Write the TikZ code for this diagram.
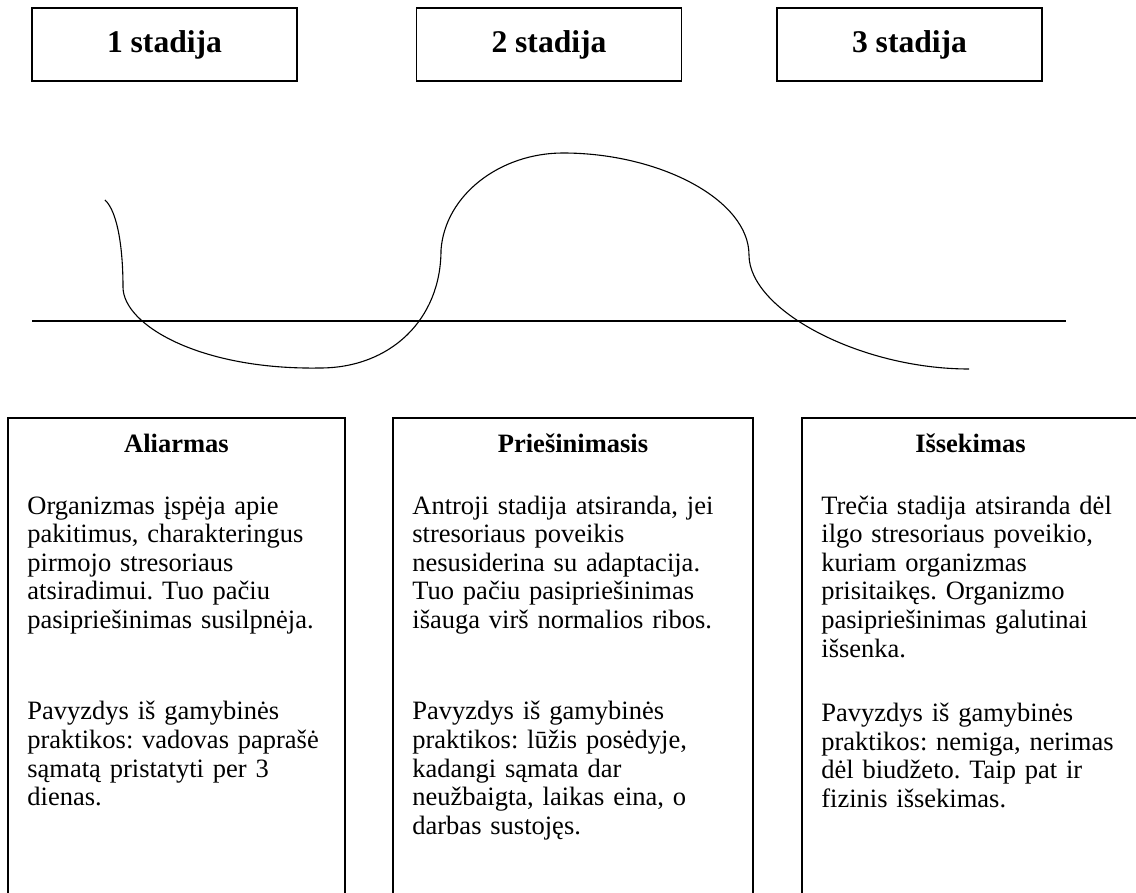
\documentclass[tikz,border=0pt]{standalone}
\usepackage{fontspec}
\setmainfont{Liberation Serif}
\usepackage{tikz}
\frenchspacing

\begin{document}
\begin{tikzpicture}[x=1pt, y=-1pt,
	stadija/.style={draw, line width=1.6pt, minimum width=265pt, minimum height=73pt, inner sep=0pt, font=\bfseries\fontsize{31.6}{36}\selectfont},
	langas/.style={draw, line width=1.6pt, anchor=north, minimum height=520pt, inner sep=0pt},
	antraste/.style={anchor=base, inner sep=0pt, font=\bfseries\fontsize{26.5}{28.6}\selectfont},
	tekstas/.style={anchor=base west, inner sep=0pt, text width=320pt, align=left, font=\fontsize{26.5}{28.6}\selectfont}]
		\useasboundingbox (0,0) rectangle (1136,893);
		\clip (0,0) rectangle (1136,893);

		% stadijos
		\node[stadija] (S1) at (164.5,44.5) {1 stadija};
		\node[stadija] (S2) at (549,44.5) {2 stadija};
		\node[stadija] (S3) at (909.5,44.5) {3 stadija};

		% norma
		\coordinate (L) at (32,321);
		\coordinate (R) at (1066,321);
		\draw[line width=1.6pt] (L) -- (R);

		% pasipriesinimo kreive
		\coordinate (A) at (105,200);
		\coordinate (B) at (123,287);
		\coordinate (C) at (320,368);
		\coordinate (D) at (441,250);
		\coordinate (T) at (563,153);
		\coordinate (E) at (749,255);
		\coordinate (F) at (969,369);
		\draw[line width=1.1pt] (A) .. controls (118,212) and (123,250) .. (B)
		.. controls (123,325) and (200,370) .. (C)
		.. controls (390,368) and (441,320) .. (D)
		.. controls (445,195) and (500,153) .. (T)
		.. controls (660,153) and (749,200) .. (E)
		.. controls (749,310) and (860,369) .. (F);

		% aprasymai
		\node[langas, minimum width=337pt] (P1) at (176.5,417) {};
		\node[langas, minimum width=360pt] (P2) at (573,417) {};
		\node[langas, minimum width=337pt] (P3) at (970.5,417) {};

		\node[antraste] (H1) at ([yshift=-36pt]P1.north) {Aliarmas};
		\node[antraste] (H2) at ([yshift=-36pt]P2.north) {Priešinimasis};
		\node[antraste] (H3) at ([yshift=-36pt]P3.north) {Išsekimas};

		\node[tekstas] (T1) at ([xshift=20pt, yshift=-97pt]P1.north west)
		{Organizmas įspėja apie\\ pakitimus, charakteringus\\ pirmojo stresoriaus\\ atsiradimui. Tuo pačiu\\ pasipriešinimas susilpnėja.\\[63pt]
		Pavyzdys iš gamybinės\\ praktikos: vadovas paprašė\\ sąmatą pristatyti per 3\\ dienas.};
		\node[tekstas] (T2) at ([xshift=20pt, yshift=-97pt]P2.north west)
		{Antroji stadija atsiranda, jei\\ stresoriaus poveikis\\ nesusiderina su adaptacija.\\ Tuo pačiu pasipriešinimas\\ išauga virš normalios ribos.\\[63pt]
		Pavyzdys iš gamybinės\\ praktikos: lūžis posėdyje,\\ kadangi sąmata dar\\ neužbaigta, laikas eina, o\\ darbas sustojęs.};
		\node[tekstas] (T3) at ([xshift=20pt, yshift=-97pt]P3.north west)
		{Trečia stadija atsiranda dėl\\ ilgo stresoriaus poveikio,\\ kuriam organizmas\\ prisitaikęs. Organizmo\\ pasipriešinimas galutinai\\ išsenka.\\[36pt]
		Pavyzdys iš gamybinės\\ praktikos: nemiga, nerimas\\ dėl biudžeto. Taip pat ir\\ fizinis išsekimas.};
\end{tikzpicture}
\end{document}
